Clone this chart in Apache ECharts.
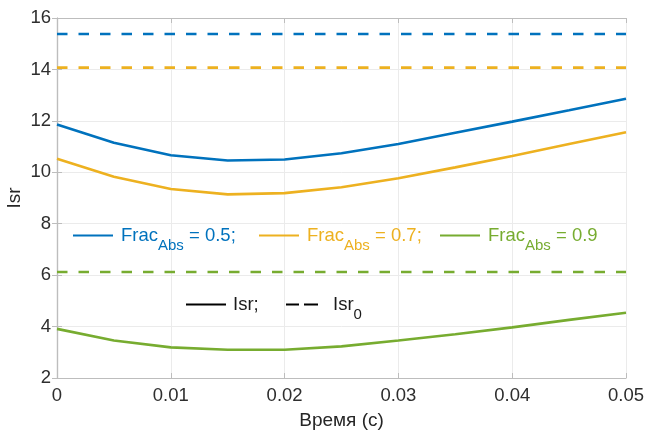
<!DOCTYPE html>
<html>
<head>
<meta charset="utf-8">
<script src="https://cdn.jsdelivr.net/npm/echarts/dist/echarts.min.js"></script>
<style>
  html, body { margin: 0; padding: 0; background: #ffffff; }
  #chart { width: 646px; height: 434px; }
</style>
</head>
<body>
<div id="chart"></div>
<script>
// Time samples, s
const timeS = [0, 0.005, 0.01, 0.015, 0.02, 0.025, 0.03, 0.035, 0.04, 0.045, 0.05];

// Isr for each absorbed fraction
const isrFrac05 = [11.86, 11.15, 10.66, 10.46, 10.50, 10.74, 11.10, 11.54, 11.97, 12.41, 12.86];
const isrFrac07 = [10.53, 9.83, 9.35, 9.14, 9.19, 9.42, 9.77, 10.19, 10.63, 11.10, 11.56];
const isrFrac09 = [3.91, 3.46, 3.19, 3.10, 3.10, 3.23, 3.46, 3.70, 3.97, 4.26, 4.54];

// Reference level Isr0 for each fraction (constant in time)
const isr0Levels = [15.38, 14.07, 6.12];

// Fractions and their labels
const fracValues = ['0.5;', '0.7;', '0.9'];
const fracNames = ['Frac 0.5', 'Frac 0.7', 'Frac 0.9'];

// Tick labels
const xTickLabels = ['0', '0.01', '0.02', '0.03', '0.04', '0.05'];
const yTickLabels = ['2', '4', '6', '8', '10', '12', '14', '16'];

const colors = ['#0072BD', '#EDB120', '#77AC30'];
const FONT = 'Liberation Sans, Arial, Helvetica, sans-serif';
const AXIS_GRAY = '#bdbdbd';

const curves = [isrFrac05, isrFrac07, isrFrac09];

const pairs = (ys) => timeS.map((t, i) => [t, ys[i]]);
const flat = (v) => timeS.map((t) => [t, v]);

const series = [];
curves.forEach((ys, i) => {
  series.push({
    name: fracNames[i],
    type: 'line',
    data: pairs(ys),
    symbol: 'none',
    color: colors[i],
    lineStyle: { width: 2.6, color: colors[i] },
    silent: true,
    z: 3
  });
});
isr0Levels.forEach((v, i) => {
  series.push({
    name: 'Isr0 ' + fracValues[i],
    type: 'line',
    data: flat(v),
    symbol: 'none',
    color: colors[i],
    lineStyle: { width: 2.6, type: [10.5, 11], color: colors[i] },
    silent: true,
    z: 3
  });
});
// Style-only entries for the line-type key
series.push({ name: 'Isr;', type: 'line', data: [], symbol: 'none', color: '#000',
  lineStyle: { width: 2.6, color: '#000' } });
series.push({ name: 'Isr0', type: 'line', data: [], symbol: 'none', color: '#000',
  lineStyle: { width: 2.6, color: '#000', type: [13, 5, 14, 40] } });

function richFor(color) {
  return {
    m: { fontFamily: FONT, fontSize: 18.5, color: color, verticalAlign: 'middle' },
    s: { fontFamily: FONT, fontSize: 15, color: color, verticalAlign: 'middle', padding: [20, 0, 0, 0] }
  };
}

// Key entries show only the line sample, no point marker
const legendBase = {
  orient: 'horizontal',
  padding: 0,
  itemWidth: 40,
  itemHeight: 14,
  itemGap: 0,
  selectedMode: false,
  itemStyle: { opacity: 0 }
};

const fracLegendLeft = [72, 258, 439];
const legends = fracNames.map((name, i) => Object.assign({}, legendBase, {
  left: fracLegendLeft[i],
  top: 226,
  data: [name],
  formatter: () => '{m|Frac}{s|Abs}{m| = ' + fracValues[i] + '}',
  textStyle: { rich: richFor(colors[i]), padding: [0, 0, 0, 3] }
}));
legends.push(Object.assign({}, legendBase, {
  left: 185, top: 295, data: ['Isr;'],
  formatter: () => '{m|Isr;}',
  textStyle: { rich: richFor('#1a1a1a'), padding: [0, 0, 0, 2] }
}));
legends.push(Object.assign({}, legendBase, {
  left: 285, top: 295, data: ['Isr0'],
  formatter: () => '{m|Isr}{s|0}',
  textStyle: { rich: richFor('#1a1a1a'), padding: [0, 0, 0, 2] }
}));

const xFmt = (v) => xTickLabels[Math.round(v / 0.01)] ?? '';
const yFmt = (v) => yTickLabels[Math.round((v - 2) / 2)] ?? '';

const chart = echarts.init(document.getElementById('chart'), null, { renderer: 'canvas' });
chart.setOption({
  animation: false,
  backgroundColor: '#ffffff',
  grid: { left: 57, right: 20, top: 18, bottom: 56, containLabel: false, outerBoundsMode: 'none' },
  legend: legends,
  xAxis: [
    {
      type: 'value', min: 0, max: 0.05, interval: 0.01,
      name: 'Время (с)', nameLocation: 'middle', nameGap: 33, nameMoveOverlap: false,
      nameTextStyle: { fontFamily: FONT, fontSize: 19, color: '#262626' },
      axisLine: { show: true, lineStyle: { color: AXIS_GRAY, width: 1.2 } },
      axisTick: { show: true, inside: true, length: 5, lineStyle: { color: AXIS_GRAY } },
      axisLabel: { fontFamily: FONT, fontSize: 18.5, color: '#2e2e2e', margin: 8, formatter: xFmt },
      splitLine: { show: true, lineStyle: { color: '#ebebeb', width: 1 } }
    },
    {
      type: 'value', min: 0, max: 0.05, interval: 0.01, position: 'top',
      axisLine: { show: true, lineStyle: { color: AXIS_GRAY, width: 1.2 } },
      axisTick: { show: true, inside: true, length: 5, lineStyle: { color: AXIS_GRAY } },
      axisLabel: { show: false },
      splitLine: { show: false }
    }
  ],
  yAxis: [
    {
      type: 'value', min: 2, max: 16, interval: 2,
      name: 'Isr', nameLocation: 'middle', nameGap: 33, nameRotate: 90, nameMoveOverlap: false,
      nameTextStyle: { fontFamily: FONT, fontSize: 19, color: '#262626' },
      axisLine: { show: true, lineStyle: { color: AXIS_GRAY, width: 1.2 } },
      axisTick: { show: true, inside: true, length: 5, lineStyle: { color: AXIS_GRAY } },
      axisLabel: { fontFamily: FONT, fontSize: 18.5, color: '#2e2e2e', margin: 6, formatter: yFmt },
      splitLine: { show: true, lineStyle: { color: '#ebebeb', width: 1 } }
    },
    {
      type: 'value', min: 2, max: 16, interval: 2, position: 'right',
      axisLine: { show: true, lineStyle: { color: AXIS_GRAY, width: 1.2 } },
      axisTick: { show: true, inside: true, length: 5, lineStyle: { color: AXIS_GRAY } },
      axisLabel: { show: false },
      splitLine: { show: false }
    }
  ],
  series: series
});
</script>
</body>
</html>
